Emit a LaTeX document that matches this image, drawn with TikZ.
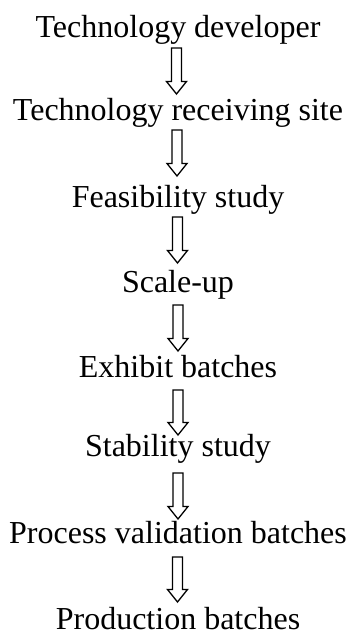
\documentclass[tikz,border=0pt]{standalone}
\usepackage{fontspec}
\setmainfont{Liberation Serif}
\usetikzlibrary{calc}
\tikzset{
  x=1pt, y=1pt,
  label/.style={anchor=base, inner sep=0pt, font=\fontsize{32}{38}\selectfont},
  blockarrow/.style={draw, line width=1.3pt, line join=miter}
}
\newcommand\hollowarrow[2]{%
  \draw[blockarrow] ($(#1)+(-5,0)$) -- ($(#2)+(-5,12.5)$) -- ($(#2)+(-10,12.5)$)
    -- (#2) -- ($(#2)+(10,12.5)$) -- ($(#2)+(5,12.5)$) -- ($(#1)+(5,0)$) -- cycle;}
\begin{document}
\begin{tikzpicture}
\useasboundingbox (0,0) rectangle (349,-633);
\node[label] (t1) at (178,-37) {Technology developer};
\node[label] (t2) at (178,-120) {Technology receiving site};
\node[label] (t3) at (178,-207) {Feasibility study};
\node[label] (t4) at (178,-292) {Scale-up};
\node[label] (t5) at (178,-377) {Exhibit batches};
\node[label] (t6) at (178,-456) {Stability study};
\node[label] (t7) at (178,-543) {Process validation batches};
\node[label, text depth=0pt] (t8) at (178,-629.5) {Production batches};
\coordinate (a1s) at (176.5,-48);  \coordinate (a1e) at (176.5,-94);
\coordinate (a2s) at (177,-130);   \coordinate (a2e) at (177,-176);
\coordinate (a3s) at (177.5,-217); \coordinate (a3e) at (177.5,-263);
\coordinate (a4s) at (178,-305);   \coordinate (a4e) at (178,-351);
\coordinate (a5s) at (178,-390);   \coordinate (a5e) at (178,-435);
\coordinate (a6s) at (178,-473);   \coordinate (a6e) at (178,-519);
\coordinate (a7s) at (177.5,-557); \coordinate (a7e) at (177.5,-602);
\hollowarrow{a1s}{a1e}
\hollowarrow{a2s}{a2e}
\hollowarrow{a3s}{a3e}
\hollowarrow{a4s}{a4e}
\hollowarrow{a5s}{a5e}
\hollowarrow{a6s}{a6e}
\hollowarrow{a7s}{a7e}
\end{tikzpicture}
\end{document}
